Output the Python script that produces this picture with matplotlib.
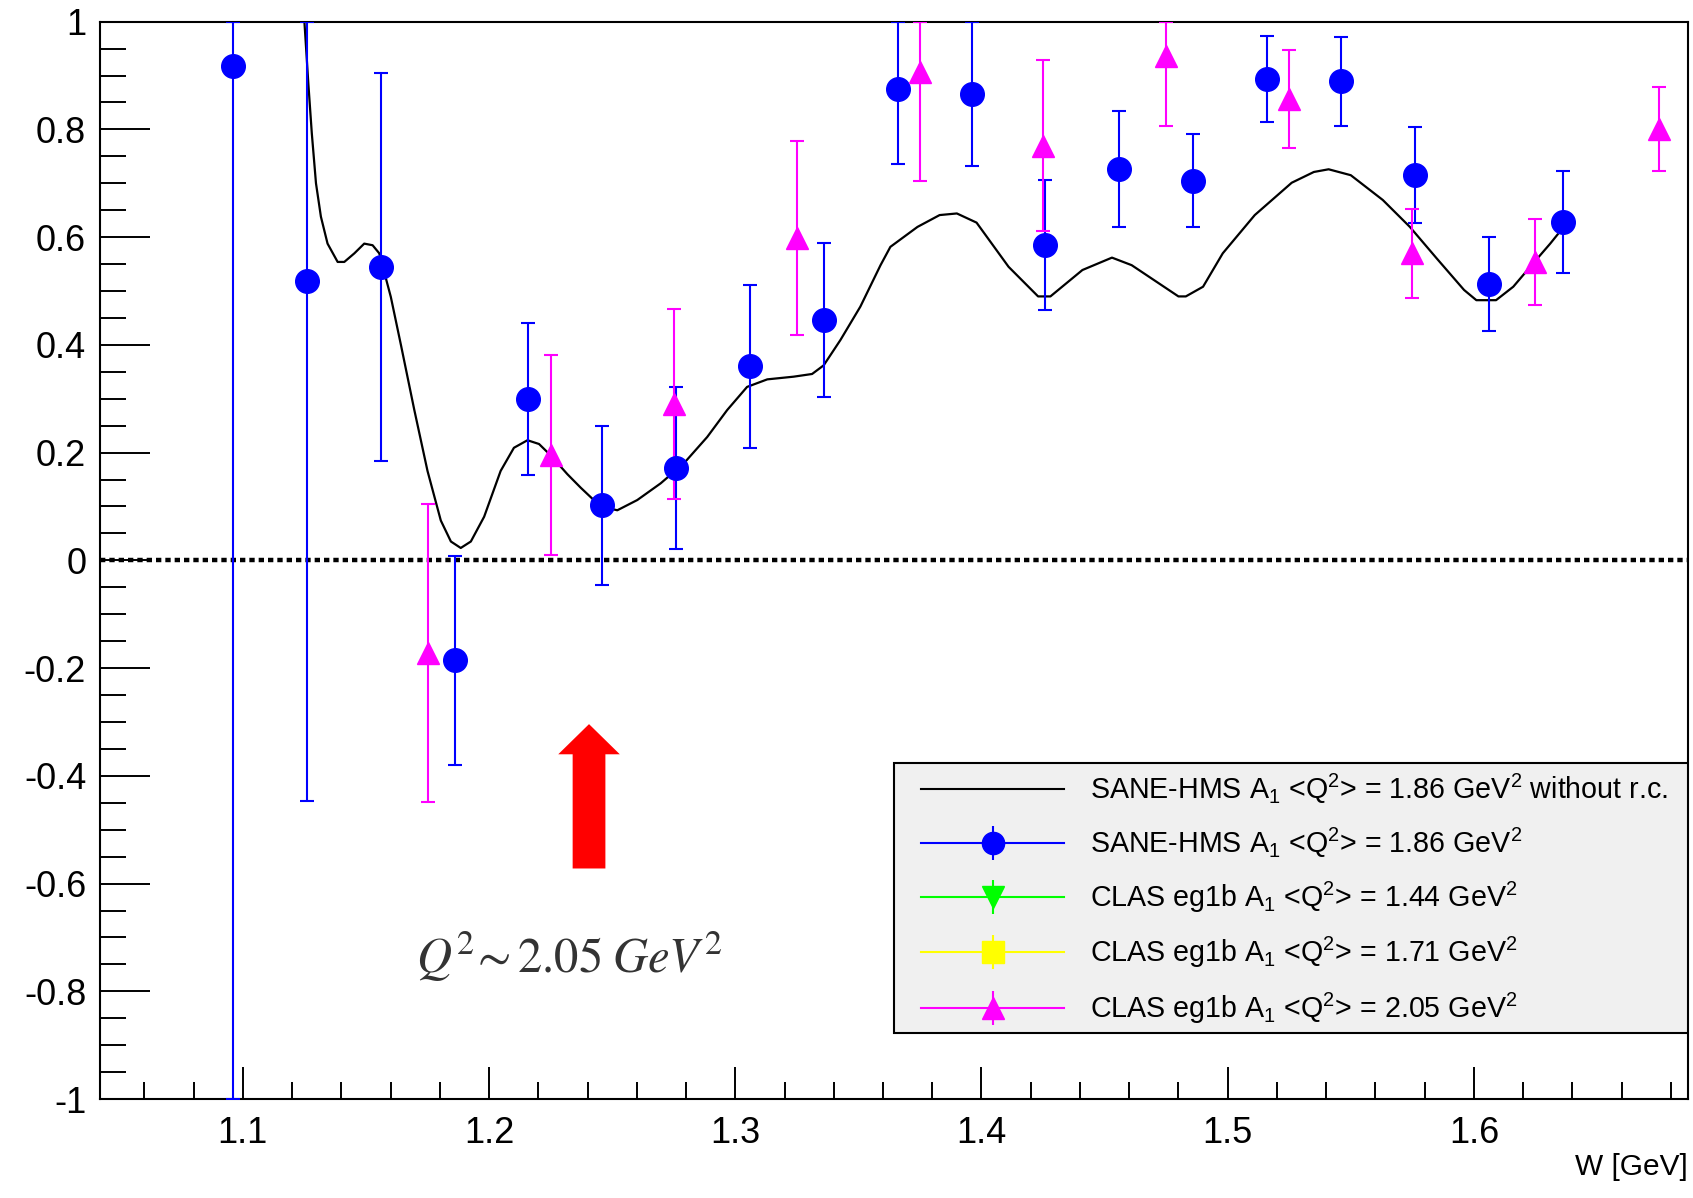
import numpy as np
import matplotlib
matplotlib.use("Agg")
import matplotlib.pyplot as plt
from matplotlib.lines import Line2D
from matplotlib.patches import FancyArrow, Rectangle
from matplotlib.ticker import MultipleLocator, FuncFormatter

plt.rcParams["font.family"] = ["Liberation Sans", "DejaVu Sans"]
plt.rcParams["mathtext.fontset"] = "custom"
plt.rcParams["mathtext.rm"] = "Liberation Sans"
plt.rcParams["mathtext.it"] = "Liberation Sans:italic"
plt.rcParams["axes.unicode_minus"] = False

# SANE-HMS A1 points, <Q2> = 1.86 GeV2
w_sane = [1.096, 1.126, 1.156, 1.186, 1.216, 1.246, 1.276, 1.306, 1.336, 1.366,
          1.396, 1.426, 1.456, 1.486, 1.516, 1.546, 1.576, 1.606, 1.636]
a1_sane = [0.918, 0.518, 0.544, -0.185, 0.300, 0.102, 0.172, 0.360, 0.447, 0.875,
           0.866, 0.585, 0.727, 0.705, 0.893, 0.889, 0.715, 0.513, 0.628]
err_sane = [2.000, 0.964, 0.360, 0.194, 0.141, 0.147, 0.150, 0.152, 0.143, 0.139,
            0.134, 0.121, 0.108, 0.087, 0.080, 0.083, 0.089, 0.088, 0.095]

# CLAS eg1b A1, <Q2> = 2.05 GeV2
w_clas = [1.175, 1.225, 1.275, 1.325, 1.375, 1.425, 1.475, 1.525, 1.575, 1.625, 1.675]
a1_clas = [-0.172, 0.196, 0.290, 0.598, 0.907, 0.770, 0.937, 0.857, 0.570, 0.554, 0.800]
err_clas = [0.276, 0.186, 0.177, 0.180, 0.202, 0.158, 0.131, 0.091, 0.083, 0.080, 0.078]

# SANE-HMS A1 without radiative corrections (model curve)
w_curve = [1.1250, 1.1266, 1.1280, 1.1297, 1.1317, 1.1344, 1.1385, 1.1412, 1.1453,
           1.1493, 1.1527, 1.1554, 1.1601, 1.1642, 1.1696, 1.1750, 1.1804, 1.1845,
           1.1885, 1.1926, 1.1980, 1.2047, 1.2101, 1.2156, 1.2203, 1.2250, 1.2318,
           1.2372, 1.2453, 1.2521, 1.2602, 1.2697, 1.2791, 1.2886, 1.2967, 1.3048,
           1.3130, 1.3237, 1.3312, 1.3359, 1.3427, 1.3508, 1.3590, 1.3630, 1.3740,
           1.3830, 1.3900, 1.3980, 1.4110, 1.4230, 1.4280, 1.4410, 1.4530, 1.4610,
           1.4800, 1.4830, 1.4900, 1.4980, 1.5110, 1.5260, 1.5350, 1.5410, 1.5500,
           1.5630, 1.5740, 1.5850, 1.5960, 1.6010, 1.6090, 1.6160, 1.6240, 1.6310,
           1.6340]
a1_curve = [1.000, 0.885, 0.793, 0.700, 0.638, 0.588, 0.554, 0.554, 0.570,
            0.588, 0.585, 0.570, 0.489, 0.400, 0.280, 0.166, 0.074, 0.035,
            0.023, 0.035, 0.081, 0.166, 0.209, 0.223, 0.216, 0.195, 0.160,
            0.135, 0.100, 0.093, 0.112, 0.143, 0.180, 0.229, 0.279, 0.322,
            0.336, 0.341, 0.346, 0.362, 0.409, 0.471, 0.548, 0.582, 0.619,
            0.641, 0.644, 0.627, 0.545, 0.490, 0.490, 0.539, 0.562, 0.548,
            0.490, 0.490, 0.508, 0.570, 0.641, 0.701, 0.721, 0.726, 0.715,
            0.669, 0.619, 0.560, 0.502, 0.483, 0.483, 0.508, 0.551, 0.588,
            0.605]

labels = [
    r"SANE-HMS A$_1$ <Q$^2$> = 1.86 GeV$^2$ without r.c.",
    r"SANE-HMS A$_1$ <Q$^2$> = 1.86 GeV$^2$",
    r"CLAS eg1b A$_1$ <Q$^2$> = 1.44 GeV$^2$",
    r"CLAS eg1b A$_1$ <Q$^2$> = 1.71 GeV$^2$",
    r"CLAS eg1b A$_1$ <Q$^2$> = 2.05 GeV$^2$",
]

XMIN, XMAX = 1.042, 1.687
YMIN, YMAX = -1.0, 1.0


def clipped_err(vals, errs):
    # error bars end at the frame, like ROOT does
    vals = np.asarray(vals)
    errs = np.asarray(errs)
    lo = np.minimum(errs, vals - YMIN)
    hi = np.minimum(errs, YMAX - vals)
    return np.vstack([lo, hi])


fig = plt.figure(figsize=(16.93, 11.98), dpi=100)
ax = fig.add_axes([0.0591, 0.0826, 0.9380, 0.8993])

ax.axhline(0, color="black", lw=3.2, ls=(0, (1.2, 0.9)), zorder=1.5)

ax.plot(w_curve, a1_curve, color="black", lw=1.6, zorder=2.2)

ax.errorbar(w_sane, a1_sane, yerr=clipped_err(a1_sane, err_sane), fmt="o",
            color="blue", ms=17, elinewidth=1.5, capsize=5, capthick=1.5,
            zorder=3)
ax.errorbar(w_clas, a1_clas, yerr=clipped_err(a1_clas, err_clas), fmt="^",
            color="magenta", ms=16, elinewidth=1.5, capsize=5, capthick=1.5,
            zorder=3)

# arrow marking the Q2 bin
ax.add_patch(FancyArrow(1.2406, -0.572, 0, 0.268, width=0.0133, head_width=0.025,
                        head_length=0.056, length_includes_head=True,
                        color="red", lw=0, zorder=4))
ax.text(1.1705, -0.766, r"$Q^2\!\sim 2.05\;GeV^2$", fontsize=35,
        math_fontfamily="stix", color="#333333", ha="left", va="baseline")

ax.set_xlim(XMIN, XMAX)
ax.set_ylim(YMIN, YMAX)
ax.xaxis.set_major_locator(MultipleLocator(0.1))
ax.xaxis.set_minor_locator(MultipleLocator(0.02))
ax.yaxis.set_major_locator(MultipleLocator(0.2))
ax.yaxis.set_minor_locator(MultipleLocator(0.05))
fmt = FuncFormatter(lambda v, p: "%g" % round(v, 3))
ax.xaxis.set_major_formatter(fmt)
ax.yaxis.set_major_formatter(fmt)

ax.tick_params(axis="both", which="both", direction="in", width=1.4,
               top=False, right=False, labelsize=26)
ax.tick_params(axis="y", which="major", length=36, pad=10)
ax.tick_params(axis="y", which="minor", length=18.5)
ax.tick_params(axis="x", which="major", length=23, pad=12)
ax.tick_params(axis="x", which="minor", length=12)
for s in ax.spines.values():
    s.set_linewidth(1.5)

ax.set_xlabel("W [GeV]", loc="right", fontsize=21.5, labelpad=2)

# legend box (ROOT TLegend style) drawn as its own patch
ax.add_patch(Rectangle((0.5, 0.061), 0.5, 0.251, transform=ax.transAxes,
                       facecolor="#f0f0f0", edgecolor="black", lw=1.5,
                       zorder=5))


def bar_handle(color, marker, ms):
    return (Line2D([], [], color=color, lw=1.5, marker=marker, ms=ms),
            Line2D([], [], color=color, ls="none", marker="|", ms=24, mew=1.5))


handles = [
    Line2D([], [], color="black", lw=1.5),
    bar_handle("blue", "o", 16),
    bar_handle("#00ff00", "v", 16),
    bar_handle("#ffff00", "s", 16),
    bar_handle("magenta", "^", 16),
]
leg = ax.legend(handles, labels, loc="upper left",
                bbox_to_anchor=(0.517, 0.304), borderaxespad=0, borderpad=0,
                fontsize=20.6, handlelength=5.0, handletextpad=0.9,
                labelspacing=0.70, frameon=False)
leg.set_zorder(6)

fig.savefig("out.png", dpi=100)
